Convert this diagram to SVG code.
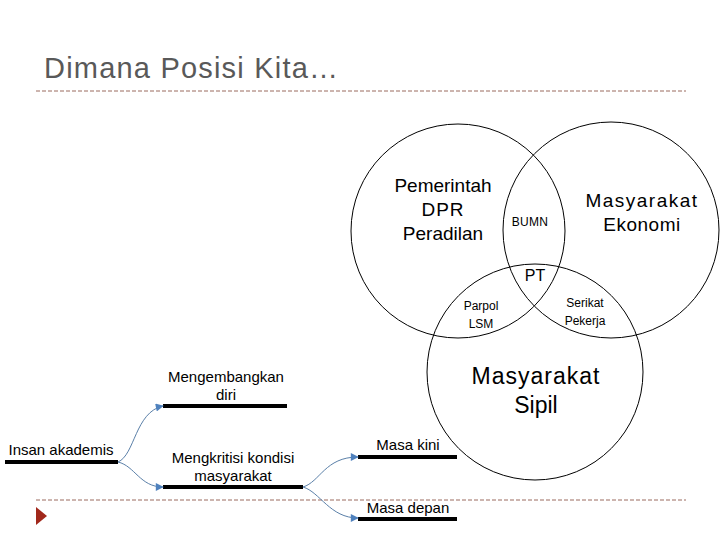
<svg xmlns="http://www.w3.org/2000/svg" width="720" height="540" viewBox="0 0 720 540">
<style>
.c{fill:none;stroke:#000;stroke-width:1}
.t{font-family:"Liberation Sans",Arial,sans-serif;fill:#000;text-anchor:middle}
.ul{stroke:#000;stroke-width:4}
.cn{fill:none;stroke:#5a7fa8;stroke-width:1}
.dl{stroke:#9a6b5e;stroke-width:1;stroke-dasharray:4 2}
</style>
<defs>
<marker id="ah" viewBox="0 0 10 10" refX="9" refY="5" markerWidth="10" markerHeight="8" orient="auto" markerUnits="userSpaceOnUse">
<path d="M0,0 L10,5 L0,10 Z" fill="#4f81bd"/>
</marker>
</defs>
<rect width="720" height="540" fill="#fff"/>
<text x="44" y="78" font-family="Liberation Sans,Arial,sans-serif" font-size="29" letter-spacing="1.2" fill="#595959">Dimana Posisi Kita…</text>
<line class="dl" x1="36" y1="91" x2="686" y2="91"/>
<line class="dl" x1="36" y1="500" x2="686" y2="500"/>
<path d="M36,507 L47,516 L36,525 Z" fill="#a1281b"/>

<g id="circle-pemerintah">
<circle class="c" cx="458" cy="231" r="107"/>
<text class="t" font-size="19" x="443" y="192">Pemerintah</text>
<text class="t" font-size="19" x="443" y="216" letter-spacing="1">DPR</text>
<text class="t" font-size="19" x="443" y="240">Peradilan</text>
</g>
<g id="circle-ekonomi">
<circle class="c" cx="611" cy="230" r="108"/>
<text class="t" font-size="19" x="642" y="207" letter-spacing="1.5">Masyarakat</text>
<text class="t" font-size="19" x="642" y="231" letter-spacing="0.5">Ekonomi</text>
</g>
<g id="circle-sipil">
<circle class="c" cx="535" cy="372" r="108"/>
<text class="t" font-size="23" x="536" y="384" letter-spacing="1">Masyarakat</text>
<text class="t" font-size="23" x="536" y="413">Sipil</text>
</g>
<g id="bumn"><text class="t" font-size="12" x="530" y="226" letter-spacing="0.3">BUMN</text></g>
<g id="pt"><text class="t" font-size="16" x="535" y="281">PT</text></g>
<g id="parpol">
<text class="t" font-size="12" x="481" y="310">Parpol</text>
<text class="t" font-size="12" x="481" y="328">LSM</text>
</g>
<g id="serikat">
<text class="t" font-size="12" x="585" y="307">Serikat</text>
<text class="t" font-size="12" x="585" y="325">Pekerja</text>
</g>

<g id="insan">
<line class="ul" x1="5" y1="462" x2="118" y2="462"/>
<text class="t" font-size="15" x="61" y="455">Insan akademis</text>
</g>
<g id="mengembangkan">
<line class="ul" x1="163" y1="406" x2="287" y2="406"/>
<text class="t" font-size="15" x="226" y="382">Mengembangkan</text>
<text class="t" font-size="15" x="226" y="400">diri</text>
</g>
<g id="mengkritisi">
<line class="ul" x1="163" y1="487" x2="303" y2="487"/>
<text class="t" font-size="15" x="233" y="463">Mengkritisi kondisi</text>
<text class="t" font-size="15" x="233" y="481">masyarakat</text>
</g>
<g id="masakini">
<line class="ul" x1="358" y1="457" x2="457" y2="457"/>
<text class="t" font-size="15" x="408" y="450">Masa kini</text>
</g>
<g id="masadepan">
<line class="ul" x1="358" y1="519" x2="457" y2="519"/>
<text class="t" font-size="15" x="408" y="513">Masa depan</text>
</g>

<g id="connectors">
<path class="cn" marker-end="url(#ah)" d="M118,462 C135,455 135,412 163,406"/>
<path class="cn" marker-end="url(#ah)" d="M118,462 C135,466 140,487 163,487"/>
<path class="cn" marker-end="url(#ah)" d="M303,487 C320,482 325,457 358,457"/>
<path class="cn" marker-end="url(#ah)" d="M303,487 C320,492 330,518 358,518"/>
</g>
</svg>
